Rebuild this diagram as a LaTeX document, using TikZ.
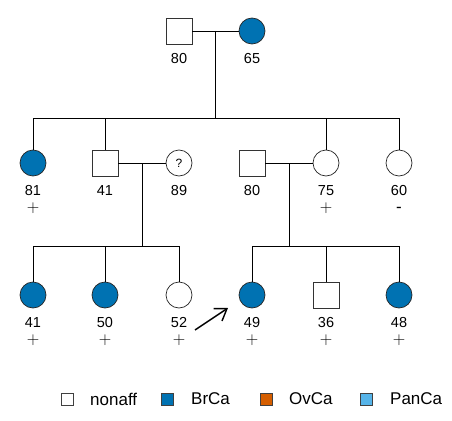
\documentclass[tikz,border=0pt]{standalone}
\usepackage{fontspec}
\setmainfont{Liberation Sans}
\usetikzlibrary{calc,positioning,arrows.meta}
\definecolor{brca}{HTML}{0072B2}
\definecolor{ovca}{HTML}{D55E00}
\definecolor{panca}{HTML}{56B4E9}

\begin{document}
\begin{tikzpicture}[x=1pt,y=-1pt,
    male/.style={draw=black!80, line width=0.7pt, minimum size=26pt, inner sep=0pt},
    female/.style={circle, draw=black!85, line width=0.7pt, minimum size=26pt, inner sep=0pt},
    aff/.style={fill=brca},
    info/.style={font=\fontsize{14.5}{17}\selectfont, inner sep=0pt, anchor=base},
    test/.style={font=\fontsize{17}{20}\selectfont, inner sep=0pt, anchor=base},
    key/.style={draw=black!75, line width=0.6pt, minimum size=12pt, inner sep=0pt},
    keytext/.style={anchor=west, font=\fontsize{17}{20}\selectfont, inner sep=0pt}]
    \useasboundingbox (0,0) rectangle (452,420);

    % Generation I
    \node[male] (gf) at (179,31) {};
    \node[female,aff] (gm) at (252,31) {};

    % Generation II
    \node[female,aff] (a1) at (33,163) {};
    \node[male] (a2) at (105,163) {};
    \node[female, font=\fontsize{12}{14}\selectfont] (a3) at (179,163) {?};
    \node[male] (a4) at (252,163) {};
    \node[female] (a5) at (326,163) {};
    \node[female] (a6) at (399,163) {};

    % Generation III
    \node[female,aff] (b1) at (33,295) {};
    \node[female,aff] (b2) at (105,295) {};
    \node[female] (b3) at (179,295) {};
    \node[female,aff] (b4) at (252,295) {};
    \node[male] (b5) at (326,295) {};
    \node[female,aff] (b6) at (399,295) {};

    % Ages and test results
    \foreach \n/\a in {gf/80,gm/65,a1/81,a2/41,a3/89,a4/80,a5/75,a6/60,b1/41,b2/50,b3/52,b4/49,b5/36,b6/48} {
        \node[info] (\n-age) at ($(\n.south)+(0,19)$) {\a};
    }
    \foreach \n/\s in {a1/$+$,a5/$+$,a6/-,b1/$+$,b2/$+$,b3/$+$,b4/$+$,b5/$+$,b6/$+$} {
        \node[test] (\n-test) at ($(\n-age.base)+(0,17)$) {\s};
    }

    % Couples and their children
    \draw[line width=0.7pt] (gf) -- (gm);
    \draw[line width=0.7pt] (a2) -- (a3);
    \draw[line width=0.7pt] (a4) -- (a5);
    \coordinate (m1) at ($(gf.east)!0.5!(gm.west)$);
    \coordinate (m2) at ($(a2.east)!0.5!(a3.west)$);
    \coordinate (m3) at ($(a4.east)!0.5!(a5.west)$);
    \coordinate (s1) at ($(m1)+(0,87)$);
    \coordinate (s2) at ($(m2)+(0,83)$);
    \coordinate (s3) at ($(m3)+(0,83)$);
    \draw[line width=0.7pt] (m1) -- (s1);
    \draw[line width=0.7pt] (m2) -- (s2);
    \draw[line width=0.7pt] (m3) -- (s3);
    \foreach \c in {a1,a2,a5,a6} {
        \draw[line width=0.7pt] (\c.north) |- (s1);
    }
    \foreach \c in {b1,b2,b3} {
        \draw[line width=0.7pt] (\c.north) |- (s2);
    }
    \foreach \c in {b4,b5,b6} {
        \draw[line width=0.7pt] (\c.north) |- (s3);
    }

    % Proband arrow
    \coordinate (tail) at (195,330);
    \coordinate (tip) at (228,308);
    \draw[line width=1.4pt, -{Straight Barb[length=11pt,width=15pt]}] (tail) -- (tip);

    % Legend
    \node[key] (k1) at (67,399) {};
    \node[key, fill=brca] (k2) at (167,399) {};
    \node[key, fill=ovca] (k3) at (266,399) {};
    \node[key, fill=panca] (k4) at (366,399) {};
    \node[keytext] (k1-text) at (90,399) {nonaff};
    \node[keytext] (k2-text) at (191,399) {BrCa};
    \node[keytext] (k3-text) at (289,399) {OvCa};
    \node[keytext] (k4-text) at (390,399) {PanCa};
\end{tikzpicture}
\end{document}
